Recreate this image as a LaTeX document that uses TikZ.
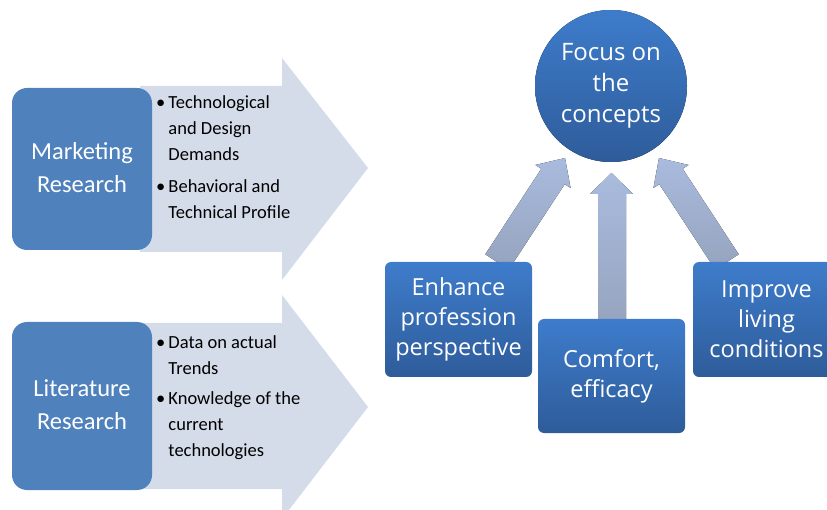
\documentclass[tikz,border=0pt]{standalone}
\usepackage{fontspec}
\setmainfont{Carlito}
\newfontfamily\rfont{Open Sans}
\definecolor{lblue}{HTML}{4F81BD}
\definecolor{lgrey}{HTML}{D4DCE9}
\definecolor{btop}{HTML}{3E7CCB}
\definecolor{bbot}{HTML}{2E5C9A}
\definecolor{atop}{HTML}{A9BBDE}
\definecolor{abot}{HTML}{95A3BD}
\tikzset{
  srcbox/.style={fill=lblue, rounded corners=15pt, text=white, align=center,
    font=\fontsize{24.5}{33}\selectfont},
  bigarrow/.style={fill=lgrey},
  bullettext/.style={anchor=north west, align=left, inner sep=0pt,
    font=\fontsize{18.5}{26}\selectfont},
  goalbox/.style={top color=btop, bottom color=bbot, rounded corners=6pt,
    text=white, align=center, font=\rfont\fontsize{23.5}{30}\selectfont},
  uparrow/.style={top color=atop, bottom color=abot},
}
\begin{document}
\begin{tikzpicture}[x=1pt,y=-1pt]
\useasboundingbox (0,0) rectangle (827,510);
\begin{scope}
\clip (0,0) rectangle (827,510);
% left arrows
\fill[bigarrow] (140,86) -- (282,86) -- (282,58) -- (368,168) -- (282,280) -- (282,252) -- (140,252) -- cycle;
\fill[bigarrow] (140,323) -- (282,323) -- (282,295) -- (368,407) -- (282,519) -- (282,489) -- (140,489) -- cycle;
% left boxes
\path[srcbox] (12,88) rectangle (152,250);
\node[text=white, align=center, font=\fontsize{24.5}{33}\selectfont] (mr) at (82,168) {Marketing\\Research};
\path[srcbox] (12,322) rectangle (152,490);
\node[text=white, align=center, font=\fontsize{24.5}{33}\selectfont] (lr) at (82,405) {Literature\\Research};
% bullets
\node[bullettext] (b1) at (156,95) {\textbullet\,Technological\\\hphantom{\textbullet\,}and Design\\\hphantom{\textbullet\,}Demands};
\node[bullettext] (b2) at (156,179) {\textbullet\,Behavioral and\\\hphantom{\textbullet\,}Technical Profile};
\node[bullettext] (b3) at (156,335) {\textbullet\,Data on actual\\\hphantom{\textbullet\,}Trends};
\node[bullettext] (b4) at (156,391) {\textbullet\,Knowledge of the\\\hphantom{\textbullet\,}current\\\hphantom{\textbullet\,}technologies};
% up arrows
\fill[uparrow] (485.3,254.3) -- (508.7,269.7) -- (564.7,184.2) -- (570.6,188) -- (565,158) -- (535.4,165) -- (541.3,168.8) -- cycle;
\fill[uparrow] (738.7,254.3) -- (715.3,269.7) -- (659.3,184.2) -- (653.4,188) -- (659,158) -- (688.6,165) -- (682.7,168.8) -- cycle;
\fill[uparrow] (598,330) -- (626,330) -- (626,194) -- (633,194) -- (611.5,173) -- (590,194) -- (598,194) -- cycle;
% circle
\fill[top color=btop, bottom color=bbot] (611,86) circle (76);
\node[text=white, align=center, font=\rfont\fontsize{24}{31}\selectfont] (focus) at (611,86) {Focus on\\the\\concepts};
% goal boxes
\path[goalbox] (385,262) rectangle (532,377);
\node[text=white, align=center, font=\rfont\fontsize{23.5}{30}\selectfont] (enh) at (458.5,319) {Enhance\\profession\\perspective};
\path[goalbox] (538,319) rectangle (685,433);
\node[text=white, align=center, font=\rfont\fontsize{23.5}{30}\selectfont] (com) at (611.5,376) {Comfort,\\efficacy};
\path[goalbox] (693,262) rectangle (840,377);
\node[text=white, align=center, font=\rfont\fontsize{23.5}{30}\selectfont] (imp) at (766.5,319) {Improve\\living\\conditions};
\end{scope}
\end{tikzpicture}
\end{document}
